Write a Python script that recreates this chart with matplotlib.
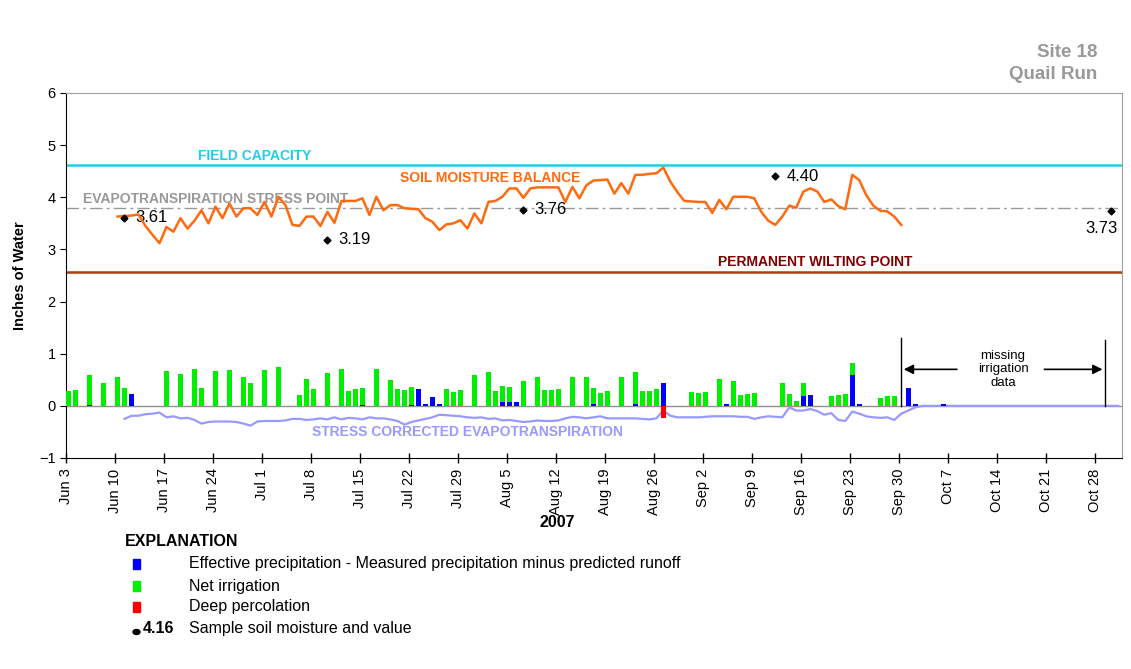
import numpy as np
import pandas as pd
import matplotlib
matplotlib.use('Agg')
import matplotlib.pyplot as plt
from matplotlib.patches import Rectangle, Ellipse

plt.rcParams['font.family'] = ['Liberation Sans', 'DejaVu Sans']

# all days are counted from Jun 3, 2007
start = pd.Timestamp('2007-06-03')

# soil moisture balance, daily from Jun 10 to Sep 30
moist_first = 7
moist = [3.63, 3.64, 3.65, 3.67, 3.45, 3.28, 3.12, 3.43, 3.34, 3.60,
         3.40, 3.55, 3.75, 3.50, 3.82, 3.60, 3.88, 3.63, 3.79, 3.79,
         3.66, 3.91, 3.63, 4.01, 3.85, 3.47, 3.45, 3.63, 3.63, 3.45,
         3.72, 3.51, 3.93, 3.93, 3.93, 3.98, 3.66, 4.01, 3.75, 3.85,
         3.85, 3.79, 3.78, 3.77, 3.60, 3.53, 3.37, 3.48, 3.50, 3.56,
         3.40, 3.69, 3.50, 3.91, 3.93, 4.01, 4.17, 4.17, 3.99, 4.17,
         4.19, 4.19, 4.19, 4.19, 3.91, 4.20, 3.98, 4.23, 4.32, 4.33,
         4.34, 4.07, 4.27, 4.07, 4.43, 4.43, 4.45, 4.46, 4.57, 4.30,
         4.10, 3.93, 3.92, 3.91, 3.91, 3.70, 3.95, 3.77, 4.01, 4.01,
         4.01, 3.98, 3.72, 3.55, 3.47, 3.63, 3.84, 3.80, 4.11, 4.17,
         4.11, 3.91, 3.96, 3.83, 3.77, 4.43, 4.33, 4.04, 3.84, 3.74,
         3.73, 3.63, 3.47]

# stress corrected evapotranspiration, daily from Jun 11
et_first = 8
et = [-0.25, -0.19, -0.19, -0.16, -0.15, -0.13, -0.22, -0.20, -0.24, -0.23,
      -0.27, -0.34, -0.31, -0.30, -0.30, -0.30, -0.31, -0.34, -0.38, -0.30,
      -0.29, -0.29, -0.29, -0.28, -0.25, -0.25, -0.27, -0.26, -0.24, -0.26,
      -0.22, -0.26, -0.23, -0.24, -0.26, -0.22, -0.24, -0.24, -0.26, -0.29,
      -0.36, -0.31, -0.28, -0.25, -0.22, -0.17, -0.18, -0.19, -0.20, -0.22,
      -0.23, -0.22, -0.25, -0.24, -0.28, -0.27, -0.29, -0.31, -0.30, -0.28,
      -0.29, -0.29, -0.28, -0.24, -0.21, -0.22, -0.24, -0.22, -0.20, -0.24,
      -0.24, -0.24, -0.24, -0.24, -0.25, -0.26, -0.24, -0.09, -0.19, -0.22,
      -0.22, -0.22, -0.22, -0.21, -0.20, -0.20, -0.20, -0.20, -0.21, -0.21,
      -0.25, -0.22, -0.20, -0.21, -0.22, -0.03, -0.09, -0.09, -0.06, -0.10,
      -0.17, -0.14, -0.27, -0.29, -0.11, -0.15, -0.20, -0.22, -0.23, -0.22,
      -0.27, -0.15, -0.09, -0.03, 0.00]
et = et + [0.0] * 28   # flat after Oct 2

# net irrigation
irr_day = [0, 1, 3, 5, 7, 8, 14, 16, 18, 19, 21, 23, 25, 26, 28, 30, 33, 34, 35,
           37, 39, 40, 41, 42, 44, 46, 47, 48, 49, 54, 55, 56, 58, 60, 61, 62,
           63, 65, 67, 68, 69, 70, 72, 74, 75, 76, 77, 79, 81, 82, 83, 84, 89,
           90, 91, 93, 95, 96, 97, 98, 102, 103, 104, 105, 109, 110, 111, 112,
           116, 117, 118]
irr_val = [0.29, 0.30, 0.57, 0.43, 0.56, 0.34, 0.66, 0.61, 0.70, 0.34, 0.66,
           0.68, 0.56, 0.43, 0.68, 0.75, 0.20, 0.51, 0.32, 0.63, 0.70, 0.29,
           0.32, 0.33, 0.70, 0.49, 0.32, 0.30, 0.34, 0.32, 0.26, 0.30, 0.59,
           0.64, 0.28, 0.30, 0.28, 0.47, 0.55, 0.30, 0.31, 0.32, 0.56, 0.56,
           0.30, 0.24, 0.29, 0.56, 0.60, 0.29, 0.29, 0.32, 0.26, 0.24, 0.27,
           0.51, 0.47, 0.20, 0.23, 0.24, 0.43, 0.22, 0.10, 0.24, 0.19, 0.20,
           0.22, 0.23, 0.16, 0.18, 0.19]

# effective precipitation
rain_day = [3, 9, 42, 49, 50, 51, 52, 53, 62, 63, 64, 75, 81, 85, 94, 105, 106,
            112, 113, 120, 121, 125]
rain_val = [0.02, 0.23, 0.02, 0.02, 0.32, 0.04, 0.17, 0.04, 0.08, 0.08, 0.08,
            0.04, 0.04, 0.43, 0.04, 0.19, 0.20, 0.59, 0.04, 0.35, 0.03, 0.04]

# deep percolation
perc_day = [85]
perc_val = [-0.23]

# sampled soil moisture
sample_day = [8, 37, 65, 101, 149]
sample_val = [3.61, 3.19, 3.76, 4.40, 3.73]

field_capacity = 4.62
stress_point = 3.79
wilting_point = 2.57

tick_days = list(range(0, 148, 7))
tick_labels = []
for d in tick_days:
    t = start + pd.Timedelta(days=d)
    tick_labels.append('%s %d' % (t.strftime('%b'), t.day))

fig = plt.figure(figsize=(11.31, 6.69), dpi=100)
ax = fig.add_axes([0.0584, 0.3154, 0.9337, 0.5456])
ax.set_xlim(0, 150.9)
ax.set_ylim(-1, 6)

ax.axhline(0, color='#909090', lw=1, zorder=1)

# bars: precipitation at the bottom, irrigation on top of it
rain_at = dict(zip(rain_day, rain_val))
ax.bar(rain_day, rain_val, width=0.7, align='edge', color='#0000FF', zorder=3)
ax.bar(irr_day, irr_val, width=0.7, align='edge', color='#00EE00',
       bottom=[rain_at.get(d, 0) for d in irr_day], zorder=3)
ax.bar(perc_day, perc_val, width=0.7, align='edge', color='#FF0000', zorder=3)

off = 0.35  # points sit in the middle of the day's bar
moist_x = np.arange(len(moist)) + moist_first + off
et_x = np.arange(len(et)) + et_first + off
ax.plot(et_x, et, color='#9999FF', lw=1.6, zorder=2)
ax.plot(moist_x, moist, color='#FF6A10', lw=1.8, zorder=4)

ax.axhline(field_capacity, color='#22CCEE', lw=1.8, zorder=2)
ax.axhline(stress_point, color='#999999', lw=1, ls=(0, (9, 3, 2, 3)), zorder=2)
ax.axhline(wilting_point, color='#A8400F', lw=1.8, zorder=2)

ax.plot(np.array(sample_day) + off, sample_val, 'D', color='black', ms=3.5, zorder=5)
for d, v in zip(sample_day[:-1], sample_val[:-1]):
    ax.annotate('%.2f' % v, (d + off, v), xytext=(8, 0), textcoords='offset points',
                ha='left', va='center', fontsize=12)
ax.annotate('%.2f' % sample_val[-1], (sample_day[-1] + off, sample_val[-1]),
            xytext=(-7, -12), textcoords='offset points', ha='center',
            va='center', fontsize=12)

lab = dict(fontsize=10, fontweight='bold', ha='center', va='center')
ax.text(26.9, 4.79, 'FIELD CAPACITY', color='#22CCEE', **lab)
ax.text(60.6, 4.37, 'SOIL MOISTURE BALANCE', color='#FF6A10', **lab)
ax.text(21.4, 3.97, 'EVAPOTRANSPIRATION STRESS POINT', color='#999999', **lab)
ax.text(107.1, 2.76, 'PERMANENT WILTING POINT', color='#800000', **lab)
ax.text(57.4, -0.50, 'STRESS CORRECTED EVAPOTRANSPIRATION', color='#9999FF', **lab)

# missing irrigation data bracket
ax.plot([119.3, 119.3], [0, 1.30], color='black', lw=1)
ax.plot([148.5, 148.5], [0, 1.27], color='black', lw=1)
ax.annotate('', xy=(119.3, 0.70), xytext=(127.7, 0.70),
            arrowprops=dict(arrowstyle='-|>', color='black', lw=1.2, mutation_scale=14))
ax.annotate('', xy=(148.5, 0.70), xytext=(139.4, 0.70),
            arrowprops=dict(arrowstyle='-|>', color='black', lw=1.2, mutation_scale=14))
ax.text(133.9, 0.70, 'missing\nirrigation\ndata', ha='center', va='center',
        fontsize=9.5, linespacing=1.2)

ax.set_xticks(tick_days)
ax.set_xticklabels(tick_labels, rotation=90, fontsize=10.5)
ax.set_yticks(range(-1, 7))
ax.tick_params(axis='x', direction='inout', length=7, width=1, pad=4)
ax.tick_params(axis='y', direction='out', length=4, labelsize=10.5)
ax.set_ylabel('Inches of Water', fontsize=10.5, fontweight='bold', labelpad=9)
for s in ['top', 'right']:
    ax.spines[s].set_color('#A0A0A0')
for s in ['left', 'bottom']:
    ax.spines[s].set_color('black')

fig.text(0.970, 0.921, 'Site 18', ha='right', va='center', fontsize=13.5,
         fontweight='bold', color='#999999')
fig.text(0.970, 0.889, 'Quail Run', ha='right', va='center', fontsize=13.5,
         fontweight='bold', color='#999999')
fig.text(0.4925, 0.2197, '2007', ha='center', va='center', fontsize=11.5,
         fontweight='bold')

# explanation block
fig.text(0.1105, 0.1913, 'EXPLANATION', ha='left', va='center', fontsize=11.5,
         fontweight='bold')
rows = [('#0000FF', 'Effective precipitation - Measured precipitation minus predicted runoff'),
        ('#00EE00', 'Net irrigation'),
        ('#FF0000', 'Deep percolation')]
row_y = [0.157, 0.124, 0.0927, 0.0598]
for (c, t), y in zip(rows, row_y):
    fig.patches.append(Rectangle((132.5 / 1131, y - 5 / 669), 7 / 1131, 10 / 669,
                                 transform=fig.transFigure, color=c))
    fig.text(0.167, y, t, ha='left', va='center', fontsize=11.5)
fig.patches.append(Ellipse((136.5 / 1131, row_y[3] - 3 / 669), 7 / 1131, 5 / 669,
                           transform=fig.transFigure, color='black'))
fig.text(0.1265, row_y[3], '4.16', ha='left', va='center', fontsize=11.5,
         fontweight='bold')
fig.text(0.167, row_y[3], 'Sample soil moisture and value', ha='left',
         va='center', fontsize=11.5)

fig.savefig('out.png', dpi=100)
